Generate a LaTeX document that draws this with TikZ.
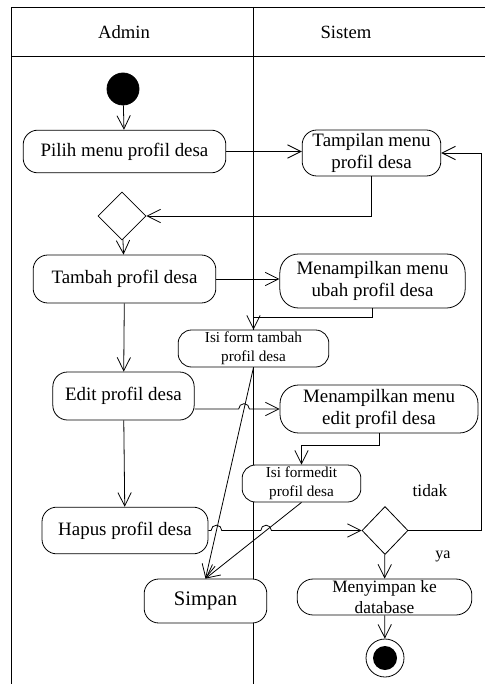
\documentclass[tikz,border=0pt]{standalone}
\usepackage{fontspec}
\setmainfont{Liberation Serif}
\usetikzlibrary{arrows.meta,shapes.geometric}

\begin{document}
\begin{tikzpicture}[x=0.75pt,y=-0.75pt,line width=0.6pt,
  act/.style={draw,fill=white,rounded corners=11pt,align=center,inner sep=0pt,
    font=\fontsize{14.2}{16.5}\selectfont},
  small/.style={act,rounded corners=10pt,font=\fontsize{11.4}{14}\selectfont},
  dec/.style={draw,fill=white,diamond,inner sep=0pt,minimum width=36pt,minimum height=36pt},
  lane/.style={font=\fontsize{14}{16}\selectfont},
  arr/.style={-{Straight Barb[length=10pt,width=10pt]}}]
  \useasboundingbox (0,0) rectangle (485,684);

  \draw (11,684) -- (11,7) -- (485,7);
  \draw (11,56) -- (485,56);
  \draw (253,7) -- (253,684);
  \node[lane] (admin) at (124,32) {Admin};
  \node[lane] (sistem) at (346,32) {Sistem};

  \node[draw,circle,fill=black,minimum size=24pt,inner sep=0pt] (start) at (123,89) {};
  \node[act,minimum width=152pt,minimum height=32pt] (pilih) at (124.5,151.5) {Pilih menu profil desa};
  \node[act,minimum width=104pt,minimum height=34.5pt] (tampil) at (371.5,153) {Tampilan menu\\profil desa};
  \node[dec] (dec1) at (122,216) {};
  \node[act,minimum width=137pt,minimum height=36pt] (tambah) at (124.5,279) {Tambah profil desa};
  \node[act,rounded corners=14pt,minimum width=139pt,minimum height=40.5pt] (ubah) at (372.5,281) {Menampilkan menu\\ubah profil desa};
  \node[small,minimum width=113pt,minimum height=27.75pt] (isitambah) at (253.5,348.5) {Isi form tambah\\profil desa};
  \node[act,minimum width=106pt,minimum height=36pt] (edit) at (123.5,396) {Edit profil desa};
  \node[act,rounded corners=14pt,minimum width=148.5pt,minimum height=36pt] (menedit) at (379,409) {Menampilkan menu\\edit profil desa};
  \node[small,minimum width=89pt,minimum height=27.75pt] (isiedit) at (301.5,483.5) {Isi formedit\\profil desa};
  \node[act,minimum width=124.5pt,minimum height=35pt] (hapus) at (125,530.5) {Hapus profil desa};
  \node[dec,minimum width=34.5pt] (dec2) at (385,530.5) {};
  \node[act,minimum width=92pt,minimum height=33pt,font=\fontsize{15.5}{18}\selectfont] (simpan) at (205.5,601) {Simpan};
  \node[act,rounded corners=12pt,minimum width=131pt,minimum height=27pt,
    font=\fontsize{13}{15.5}\selectfont] (menyimpan) at (384.5,597) {Menyimpan ke\\database};
  \node[draw,circle,minimum size=28.5pt,inner sep=0pt] (end) at (385,658) {};
  \node[circle,fill=black,minimum size=18pt,inner sep=0pt] (endin) at (end) {};
  \node[font=\fontsize{13}{15}\selectfont] (tidak) at (430,491) {tidak};
  \node[font=\fontsize{12}{14}\selectfont] (ya) at (443,556) {ya};

  \coordinate (e1) at (menedit.west -| edit.east);
  \coordinate (j1) at (intersection of isitambah.south--simpan.north and e1--menedit.west);
  \coordinate (j2) at (intersection of isitambah.south--simpan.north and hapus.east--dec2.west);
  \coordinate (j3) at (intersection of isiedit.south--simpan.north and hapus.east--dec2.west);

  \draw[arr] (start) -- (pilih);
  \draw[arr] (pilih.east) -- (pilih.east -| tampil.west);
  \draw[arr] (tampil.south) |- (dec1.east);
  \draw[arr] (dec1) -- (tambah);
  \draw[arr] (tambah.east) -- (tambah.east -| ubah.west);
  \draw[arr] (ubah.south) -- ++(0,9) -| (isitambah.north);
  \draw[arr] (tambah) -- (edit);
  \draw[arr] (isitambah.south) -- (simpan.north);
  \draw[arr] (e1) -- ([xshift=-4pt]j1) arc[start angle=180,end angle=0,radius=4pt] -- (menedit.west);
  \draw[arr] (menedit.south) -- ++(0,12) -| (isiedit.north);
  \draw[arr] (isiedit.south) -- (simpan.north);
  \draw[arr] (edit) -- (hapus);
  \draw[arr] (hapus.east) -- ([xshift=-4pt]j2) arc[start angle=180,end angle=0,radius=4pt]
    -- ([xshift=-4pt]j3) arc[start angle=180,end angle=0,radius=4pt] -- (dec2.west);
  \draw[arr] (dec2.east) -- ++(73,0) |- (tampil.east);
  \draw[arr] (dec2) -- (menyimpan);
  \draw[arr] (menyimpan) -- (end);
\end{tikzpicture}
\end{document}
